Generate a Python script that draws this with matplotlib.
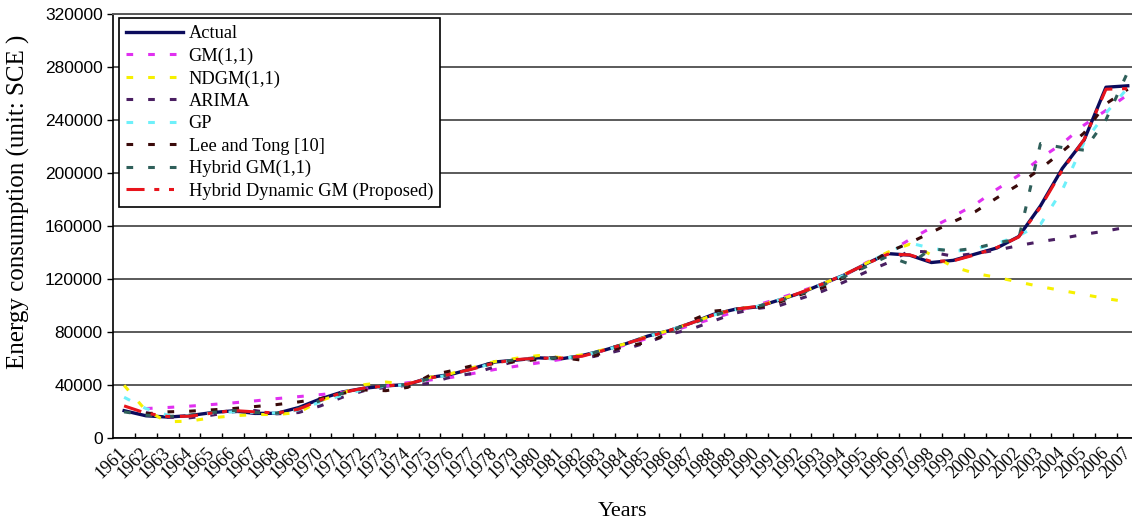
import numpy as np
import matplotlib
matplotlib.use("Agg")
import matplotlib.pyplot as plt

plt.rcParams["lines.scale_dashes"] = False

# Donnees (unite : SCE)
annees = [str(a) for a in range(1961, 2008)]
nan = np.nan

actual = [20390, 16540, 15567, 16637, 18901, 20269, 18328, 18405, 22730, 29291,
          34496, 37273, 39109, 40144, 45425, 47831, 52354, 57144, 58588, 60275,
          59447, 62067, 66040, 70904, 76682, 80850, 86632, 92997, 96934, 98703,
          103783, 109170, 115993, 122737, 131176, 138948, 137798, 132214, 133831, 138553,
          143199, 151797, 174990, 203227, 224682, 264500, 265583]

gm11 = [nan, 22000, 22800, 23800, 25000, 26300, 27800, 29500, 31000, 32500,
        34200, 36500, 39000, 41500, 43500, 45500, 48500, 51500, 54000, 56500,
        59000, 62000, 66000, 70000, 75000, 80000, 85000, 90000, 95000, 100000,
        105000, 110500, 116000, 122500, 132000, 139500, 149500, 158500, 167000, 176000,
        187500, 198000, 211000, 222000, 236000, 247000, 259000]

ndgm = [39500, 20500, 12000, 12500, 15000, 16500, 17500, 17500, 19000, 28000,
        33500, 40000, 42000, 40500, 45500, 48500, 53000, 57500, 60000, 62000,
        60500, 62500, 66500, 71000, 76500, 81000, 86500, 92500, 97000, 99000,
        104000, 109500, 116000, 123000, 131500, 140000, 146000, 138000, 129000, 124000,
        121000, 117500, 114000, 111000, 108000, 105000, 102500]

arima = [nan, 19000, 15500, 15000, 17000, 19500, 20500, 18000, 19000, 24000,
         30500, 35500, 38000, 39500, 41000, 46000, 48500, 53500, 58000, 59500,
         61000, 59500, 63000, 67000, 72000, 78000, 82000, 88000, 94000, 97500,
         99500, 105000, 110500, 117500, 125000, 132000, 141000, 140000, 137000, 139000,
         141500, 145000, 148000, 150500, 153500, 156000, 159000]

gp = [30500, 22000, 17000, 16500, 18500, 19500, 19000, 18500, 21000, 27000,
      32000, 36500, 39000, 40000, 45000, 47500, 52000, 56500, 58500, 60000,
      59500, 62000, 66000, 70500, 76500, 81000, 86500, 92500, 96500, 99000,
      104000, 109000, 116000, 122500, 131000, 140000, 147000, 143000, 140500, 142500,
      146500, 152500, 161000, 187000, 223000, 245000, 264000]

lee_tong = [nan, 18000, 19500, 20000, 21000, 22000, 23500, 25000, 27000, 29500,
            33500, 36000, 35500, 38000, 47000, 50500, 54500, 56000, 57500, 59000,
            60500, 58500, 64500, 69000, 72000, 79000, 88500, 95500, 97000, 98000,
            102000, 108000, 113000, 121000, 130000, 140000, 147000, 155000, 163000, 170500,
            181000, 191000, 203000, 216000, 230000, 252000, 263000]

hybrid_gm = [19500, 17000, 16000, 17000, 19000, 20500, 19000, 18500, 22000, 28000,
             33500, 37000, 39500, 40000, 44500, 48000, 52000, 56500, 59000, 60500,
             60000, 61500, 66500, 71000, 76000, 81000, 86000, 92000, 97000, 99000,
             103000, 108500, 115000, 121500, 129000, 137000, 131000, 142500, 141000, 143000,
             147000, 150000, 222000, 219000, 217000, 240000, 276000]

proposed = [24000, 18500, 16000, 16200, 18500, 20500, 19500, 18600, 21500, 28500,
            34000, 37500, 39000, 40500, 45000, 48000, 52000, 56500, 59000, 60000,
            60000, 61500, 66000, 71000, 76000, 81000, 86500, 92500, 97000, 99000,
            103500, 109500, 116000, 123000, 131000, 138500, 138000, 133000, 133500, 138000,
            143500, 151500, 174000, 202000, 225000, 263000, 263500]

y_ticks = list(range(0, 320001, 40000))

# Styles
tirets = (4.8, 10.8)
series = [
    ("Actual", actual, "#0b0b5c", None),
    ("GM(1,1)", gm11, "#e030f0", tirets),
    ("NDGM(1,1)", ndgm, "#f6f000", tirets),
    ("ARIMA", arima, "#4a1f62", tirets),
    ("GP", gp, "#6ef0fa", tirets),
    ("Lee and Tong [10]", lee_tong, "#3a0a0a", tirets),
    ("Hybrid GM(1,1)", hybrid_gm, "#2f5f5a", tirets),
    ("Hybrid Dynamic GM (Proposed)", proposed, "#e8141c", (13, 7, 3.6, 7, 3.6, 7)),
]

fig = plt.figure(figsize=(11.32, 5.25), dpi=100)
ax = fig.add_axes([0.1, 0.1663, 0.9059, 0.8076])

x = np.arange(len(annees))
for nom, valeurs, couleur, motif in series:
    if motif is None:
        ax.plot(x, valeurs, color=couleur, lw=2.4, label=nom,
                solid_joinstyle="round")
    else:
        ax.plot(x, valeurs, color=couleur, lw=2.2, label=nom,
                dashes=motif)

ax.set_xlim(-0.5, len(annees) - 0.5)
ax.set_ylim(0, 320000)

# Grille et axes
ax.set_yticks(y_ticks)
ax.set_yticklabels([str(v) for v in y_ticks], family="Liberation Sans",
                   fontsize=12.5)
ax.yaxis.grid(True, color="#5a5a5a", lw=1.4)
ax.set_axisbelow(True)
ax.tick_params(axis="y", direction="out", length=4.5, width=1, pad=3)

ax.set_xticks(x)
ax.set_xticklabels(annees, rotation=45, ha="right", va="center",
                   rotation_mode="anchor", family="Liberation Serif",
                   fontsize=13)
ax.tick_params(axis="x", which="major", length=0, pad=9)
ax.set_xticks(np.arange(0.5, len(annees) - 0.5, 1), minor=True)
ax.tick_params(axis="x", which="minor", direction="in", length=3.4, width=1)

for cote in ["left", "bottom"]:
    ax.spines[cote].set_color("black")
    ax.spines[cote].set_linewidth(1.2)
ax.spines["top"].set_color("#5a5a5a")
ax.spines["top"].set_linewidth(1.4)
ax.spines["right"].set_visible(False)

fig.text(18 / 1132, 1 - 202 / 525, "Energy consumption (unit: SCE )",
         rotation=90, ha="center", va="center",
         family="Liberation Serif", fontsize=18)
fig.text(623 / 1132, 1 - 511 / 525, "Years", ha="center", va="center",
         family="Liberation Serif", fontsize=16)

leg = ax.legend(loc="upper left", bbox_to_anchor=(119 / 1132, 1 - 18 / 525),
                bbox_transform=fig.transFigure, borderaxespad=0,
                fancybox=False, framealpha=1, edgecolor="black",
                prop={"family": "Liberation Serif", "size": 13.2},
                labelspacing=0.29, handlelength=3.1, handletextpad=0.3,
                borderpad=0.4)
leg.get_frame().set_linewidth(1.2)

fig.savefig("out.png", dpi=100)
